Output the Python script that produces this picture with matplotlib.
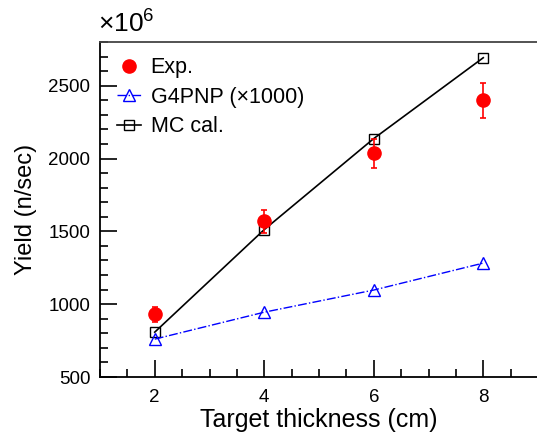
import matplotlib
matplotlib.use("Agg")
import matplotlib.pyplot as plt
from matplotlib.lines import Line2D
from matplotlib.ticker import MultipleLocator

plt.rcParams['font.family'] = ['Liberation Sans', 'DejaVu Sans']
plt.rcParams['mathtext.fontset'] = 'custom'
plt.rcParams['mathtext.rm'] = 'Liberation Sans'
plt.rcParams['mathtext.it'] = 'Liberation Sans'

thickness = [2, 4, 6, 8]
exp_yield = [930, 1570, 2035, 2400]
exp_err = [50, 80, 100, 120]
g4pnp_yield = [760, 945, 1097, 1282]
mc_yield = [808, 1512, 2137, 2692]

xlabel = "Target thickness (cm)"
ylabel = "Yield (n/sec)"
labels = ["Exp.", "G4PNP (\u00d71000)", "MC cal."]

fig = plt.figure(figsize=(5.37, 4.33), dpi=100)
ax = fig.add_axes([100/537, 1-377/433, 438/537, 335/433])

ax.plot(thickness, mc_yield, '-', color='black', lw=1.2, marker='s', ms=7.5,
        mfc='none', mec='black', mew=1.0, zorder=3)
ax.plot(thickness, g4pnp_yield, '-.', color='blue', lw=1.0, marker='^', ms=8,
        mfc='none', mec='blue', mew=1.0, zorder=3)
ax.errorbar(thickness, exp_yield, yerr=exp_err, fmt='o', color='red', ms=9.5,
            elinewidth=1.2, capsize=2.5, capthick=1.2, zorder=4)

ax.set_xlim(1, 9)
ax.set_ylim(500, 2800)
ax.xaxis.set_major_locator(MultipleLocator(2))
ax.xaxis.set_minor_locator(MultipleLocator(0.5))
ax.yaxis.set_major_locator(MultipleLocator(500))
ax.yaxis.set_minor_locator(MultipleLocator(100))
ax.tick_params(which='both', direction='in', top=False, right=False, labelsize=13.5, width=1.2)
ax.tick_params(which='major', length=12)
ax.tick_params(which='minor', length=6)
ax.tick_params(axis='x', pad=9)
ax.tick_params(axis='y', pad=7)
ax.spines['right'].set_visible(False)
for s in ['left', 'bottom', 'top']:
    ax.spines[s].set_linewidth(1.3)
ax.spines['top'].set_color('#444444')

ax.set_xlabel(xlabel, fontsize=18, labelpad=1)
ax.set_ylabel(ylabel, fontsize=17, labelpad=8)

fig.text(98/537, 1-33/433, r'$\times10^6$', fontsize=19, ha='left', va='baseline')

handles = [
    Line2D([], [], ls='none', marker='o', color='red', ms=9.5),
    Line2D([], [], ls='-.', color='blue', lw=1.0, marker='^', ms=8, mfc='none', mec='blue'),
    Line2D([], [], ls='-', color='black', lw=1.2, marker='s', ms=7.5, mfc='none', mec='black'),
]
ax.legend(handles, labels, loc='upper left', bbox_to_anchor=(0.005, 1.0), frameon=False,
          fontsize=15.5, handlelength=1.1, handletextpad=0.45, labelspacing=0.4,
          borderaxespad=0.3)

fig.savefig('out.png', dpi=100)
